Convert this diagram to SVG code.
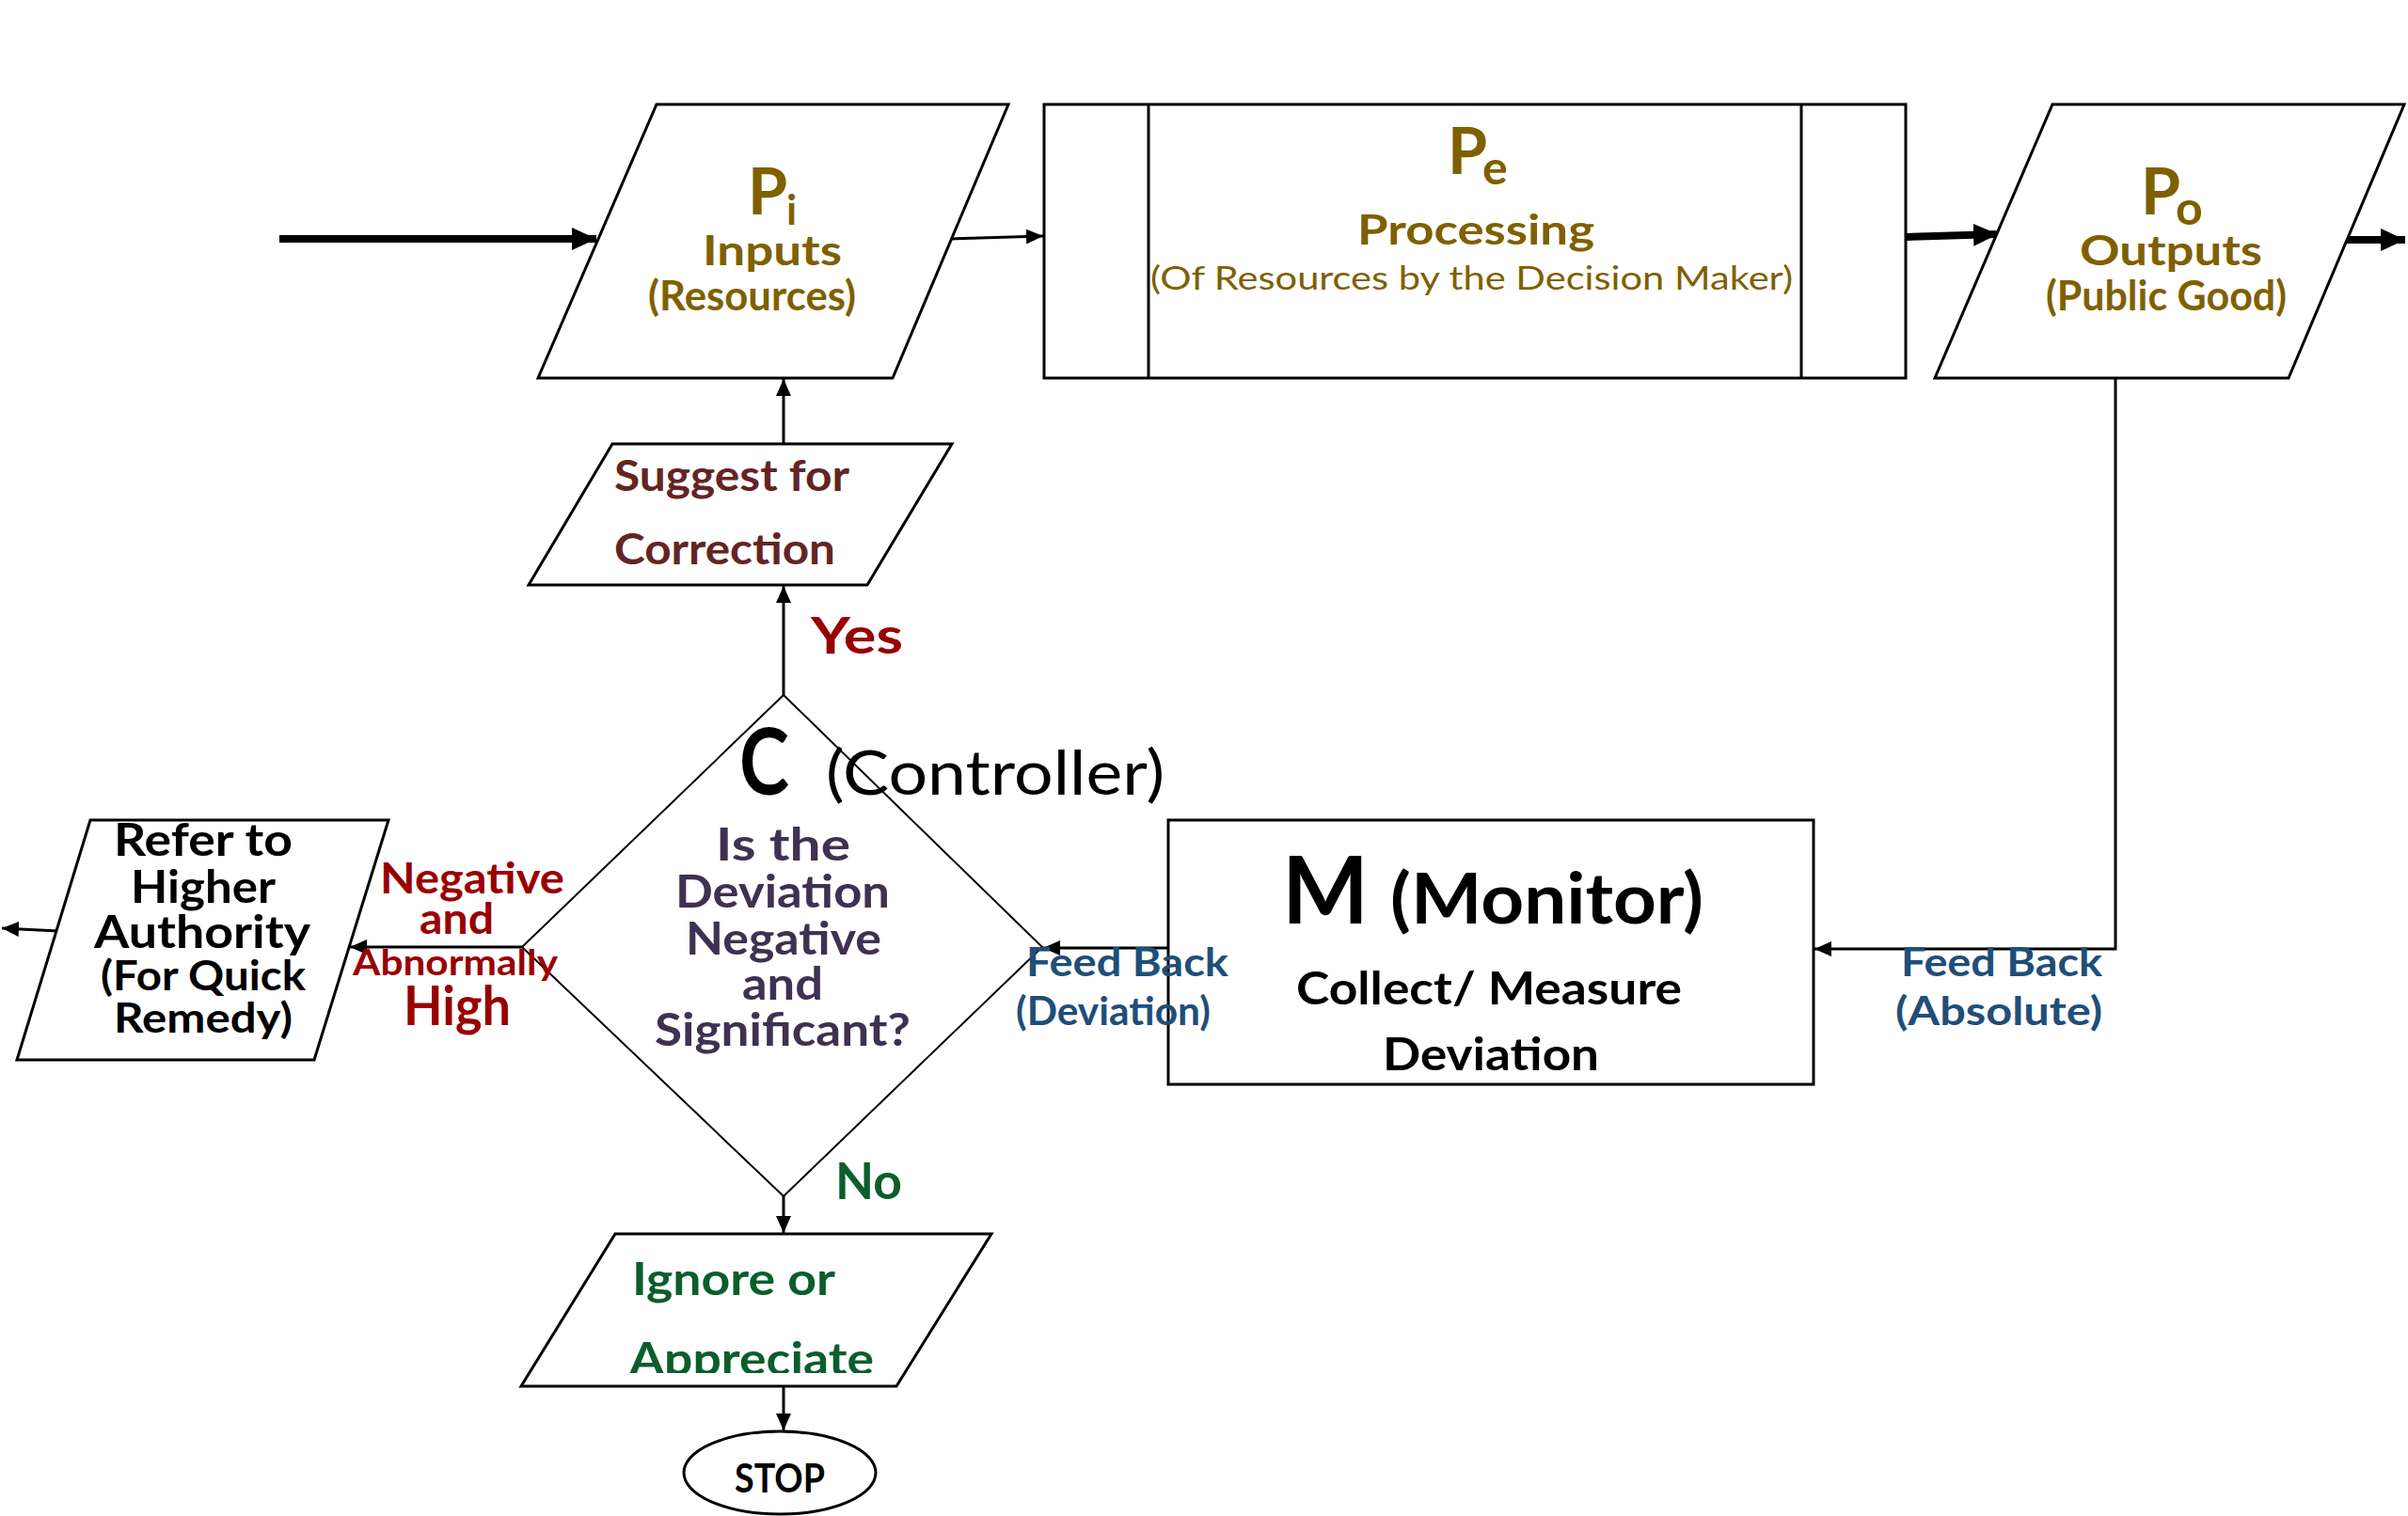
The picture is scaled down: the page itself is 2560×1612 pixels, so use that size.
<svg xmlns="http://www.w3.org/2000/svg" width="2560" height="1612" viewBox="0 0 2560 1612">
<style>
.shape{fill:#fff;stroke:#000;stroke-width:3}
.thin{fill:none;stroke:#000;stroke-width:2}
.ln{fill:none;stroke:#000;stroke-width:3}
.thick{fill:none;stroke:#000;stroke-width:8}
text{font-family:Lato,"Open Sans","Liberation Sans",sans-serif;font-weight:700}
.reg{font-weight:400}
.gold{fill:#7F6000}
.brn{fill:#632523}
.red{fill:#990000}
.pur{fill:#3F3151}
.blu{fill:#1F4E79}
.grn{fill:#0B5E2C}
.blk{fill:#000}
</style>
<defs>
<marker id="ah" viewBox="0 0 18 16" refX="18" refY="8" markerWidth="18" markerHeight="16" markerUnits="userSpaceOnUse" orient="auto"><path d="M0,0 L18,8 L0,16 z" fill="#000"/></marker>
<marker id="ahT" viewBox="0 0 26 24" refX="26" refY="12" markerWidth="26" markerHeight="24" markerUnits="userSpaceOnUse" orient="auto"><path d="M0,0 L26,12 L0,24 z" fill="#000"/></marker>
<clipPath id="clipApp"><rect x="600" y="1400" width="400" height="60"/></clipPath>
</defs>
<rect width="2560" height="1612" fill="#fff"/>

<g id="connectors">
<line class="thick" x1="297" y1="254" x2="634" y2="254" marker-end="url(#ahT)"/>
<line class="ln" x1="1011" y1="254" x2="1109" y2="251" marker-end="url(#ah)"/>
<line class="thick" x1="2026" y1="252" x2="2124" y2="249" marker-end="url(#ahT)"/>
<line class="thick" x1="2494" y1="255" x2="2557" y2="255" marker-end="url(#ahT)"/>
<polyline class="ln" points="2249,402 2249,1009 1929,1009" marker-end="url(#ah)"/>
<line class="ln" x1="1242" y1="1008" x2="1109" y2="1008" marker-end="url(#ah)"/>
<line class="ln" x1="833" y1="472" x2="833" y2="403" marker-end="url(#ah)"/>
<line class="ln" x1="833" y1="739" x2="833" y2="623" marker-end="url(#ah)"/>
<line class="ln" x1="555" y1="1007" x2="372" y2="1007" marker-end="url(#ah)"/>
<line class="ln" x1="62" y1="990" x2="2" y2="987" marker-end="url(#ah)"/>
<line class="ln" x1="833" y1="1272" x2="833" y2="1311" marker-end="url(#ah)"/>
<line class="ln" x1="833" y1="1474" x2="833" y2="1521" marker-end="url(#ah)"/>
</g>

<g id="inputs">
<polygon class="shape" points="698,111 1072,111 949,402 572,402"/>
<text class="gold" x="795" y="228" font-size="68">P</text>
<text class="gold" x="836" y="239" font-size="44">i</text>
<text class="gold" x="747" y="282" font-size="43" textLength="148" lengthAdjust="spacingAndGlyphs">Inputs</text>
<text class="gold" x="689" y="330" font-size="43" textLength="221" lengthAdjust="spacingAndGlyphs">(Resources)</text>
</g>

<g id="processing">
<rect class="shape" x="1110" y="111" width="916" height="291"/>
<line class="ln" x1="1221" y1="111" x2="1221" y2="402"/>
<line class="ln" x1="1915" y1="111" x2="1915" y2="402"/>
<text class="gold" x="1539" y="185" font-size="68">P</text>
<text class="gold" x="1576" y="196" font-size="50">e</text>
<text class="gold" x="1443" y="260" font-size="44" textLength="252" lengthAdjust="spacingAndGlyphs">Processing</text>
<text class="gold reg" x="1223" y="308" font-size="34" textLength="683" lengthAdjust="spacingAndGlyphs">(Of Resources by the Decision Maker)</text>
</g>

<g id="outputs">
<polygon class="shape" points="2182,111 2556,111 2433,402 2057,402"/>
<text class="gold" x="2276" y="228" font-size="68">P</text>
<text class="gold" x="2313" y="239" font-size="50">o</text>
<text class="gold" x="2211" y="282" font-size="43" textLength="194" lengthAdjust="spacingAndGlyphs">Outputs</text>
<text class="gold" x="2175" y="330" font-size="43" textLength="256" lengthAdjust="spacingAndGlyphs">(Public Good)</text>
</g>

<g id="suggest">
<polygon class="shape" points="651,472 1012,472 922,622 562,622"/>
<text class="brn" x="653" y="522" font-size="45" textLength="250" lengthAdjust="spacingAndGlyphs">Suggest for</text>
<text class="brn" x="653" y="600" font-size="45" textLength="235" lengthAdjust="spacingAndGlyphs">Correction</text>
</g>

<g id="controller">
<polygon class="thin" fill="#fff" points="833,739 1108,1007 833,1272 555,1007"/>
<text class="blk" x="786" y="845" font-size="98" textLength="53" lengthAdjust="spacingAndGlyphs">C</text>
<text class="blk reg" x="878" y="845" font-size="66" textLength="360" lengthAdjust="spacingAndGlyphs">(Controller)</text>
<text class="pur" x="761" y="915" font-size="48" textLength="143" lengthAdjust="spacingAndGlyphs">Is the</text>
<text class="pur" x="718" y="965" font-size="47" textLength="228" lengthAdjust="spacingAndGlyphs">Deviation</text>
<text class="pur" x="729" y="1015" font-size="47" textLength="208" lengthAdjust="spacingAndGlyphs">Negative</text>
<text class="pur" x="789" y="1063" font-size="47" textLength="86" lengthAdjust="spacingAndGlyphs">and</text>
<text class="pur" x="696" y="1112" font-size="47" textLength="272" lengthAdjust="spacingAndGlyphs">Significant?</text>
</g>

<g id="refer">
<polygon class="shape" points="96,872 413,872 334,1127 18,1127"/>
<text class="blk" x="121" y="910" font-size="47" textLength="190" lengthAdjust="spacingAndGlyphs">Refer to</text>
<text class="blk" x="139" y="960" font-size="47" textLength="154" lengthAdjust="spacingAndGlyphs">Higher</text>
<text class="blk" x="100" y="1008" font-size="47" textLength="230" lengthAdjust="spacingAndGlyphs">Authority</text>
<text class="blk" x="107" y="1053" font-size="43" textLength="218" lengthAdjust="spacingAndGlyphs">(For Quick</text>
<text class="blk" x="121" y="1098" font-size="43" textLength="190" lengthAdjust="spacingAndGlyphs">Remedy)</text>
</g>

<g id="monitor">
<rect class="shape" x="1242" y="872" width="686" height="281"/>
<text class="blk" x="1363" y="982" font-size="100" textLength="92" lengthAdjust="spacingAndGlyphs">M</text>
<text class="blk" x="1478" y="982" font-size="74" textLength="333" lengthAdjust="spacingAndGlyphs">(Monitor)</text>
<text class="blk" x="1378" y="1068" font-size="48" textLength="410" lengthAdjust="spacingAndGlyphs">Collect/ Measure</text>
<text class="blk" x="1470" y="1138" font-size="47" textLength="230" lengthAdjust="spacingAndGlyphs">Deviation</text>
</g>

<g id="ignore">
<polygon class="shape" points="654,1312 1054,1312 953,1474 554,1474"/>
<text class="grn" x="672" y="1377" font-size="47" textLength="216" lengthAdjust="spacingAndGlyphs">Ignore or</text>
<text class="grn" x="669" y="1462" font-size="47" textLength="260" lengthAdjust="spacingAndGlyphs" clip-path="url(#clipApp)">Appreciate</text>
</g>

<g id="stop">
<ellipse class="shape" cx="829" cy="1566" rx="102" ry="44"/>
<text class="blk" x="781" y="1587" font-size="42" textLength="96" lengthAdjust="spacingAndGlyphs">STOP</text>
</g>

<g id="labels">
<text class="red" x="862" y="695" font-size="53" textLength="98" lengthAdjust="spacingAndGlyphs">Yes</text>
<text class="red" x="404" y="950" font-size="45" textLength="196" lengthAdjust="spacingAndGlyphs">Negative</text>
<text class="red" x="446" y="993" font-size="45" textLength="79" lengthAdjust="spacingAndGlyphs">and</text>
<text class="red" x="375" y="1037" font-size="38" textLength="218" lengthAdjust="spacingAndGlyphs">Abnormally</text>
<text class="red" x="429" y="1090" font-size="57" textLength="114" lengthAdjust="spacingAndGlyphs">High</text>
<text class="blu" x="1091" y="1038" font-size="42" textLength="215" lengthAdjust="spacingAndGlyphs">Feed Back</text>
<text class="blu" x="1080" y="1090" font-size="42" textLength="207" lengthAdjust="spacingAndGlyphs">(Deviation)</text>
<text class="blu" x="2021" y="1038" font-size="42" textLength="214" lengthAdjust="spacingAndGlyphs">Feed Back</text>
<text class="blu" x="2015" y="1090" font-size="42" textLength="220" lengthAdjust="spacingAndGlyphs">(Absolute)</text>
<text class="grn" x="888" y="1275" font-size="53" textLength="71" lengthAdjust="spacingAndGlyphs">No</text>
</g>
</svg>
